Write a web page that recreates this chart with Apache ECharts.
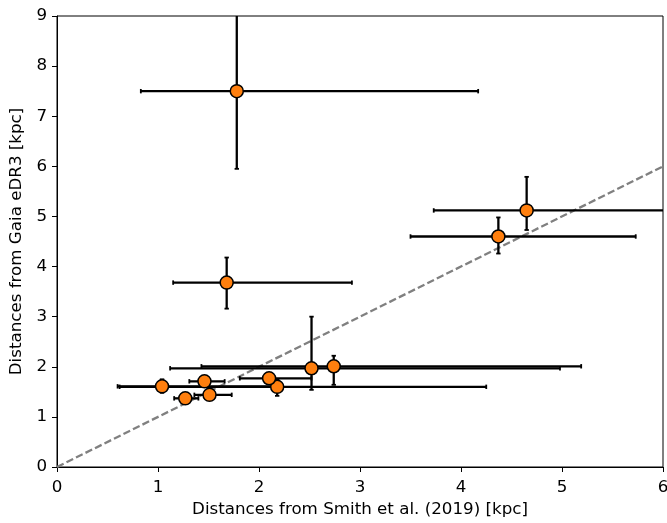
<!DOCTYPE html>
<html>
<head>
<meta charset="utf-8">
<script src="https://cdn.jsdelivr.net/npm/echarts@6/dist/echarts.min.js"></script>
<style>html,body{margin:0;padding:0;background:#fff;}#chart{width:667px;height:523px;}</style>
</head>
<body>
<div id="chart"></div>
<script>
// Values
var xVals  = [1.78, 1.68, 4.65, 4.37, 1.04, 2.18, 1.46, 1.27, 1.51, 2.10, 2.52, 2.74];
var yVals  = [7.50, 3.68, 5.12, 4.60, 1.61, 1.60, 1.71, 1.37, 1.44, 1.77, 1.97, 2.01];
var xLow   = [0.83, 1.15, 3.73, 3.50, 0.60, 0.62, 1.31, 1.16, 1.36, 1.81, 1.12, 1.43];
var xHigh  = [4.17, 2.92, 6.60, 5.73, 2.20, 4.25, 1.66, 1.40, 1.73, 2.52, 4.98, 5.19];
var yLow   = [5.95, 3.16, 4.73, 4.26, 1.48, 1.42, 1.65, 1.32, 1.38, 1.72, 1.54, 1.64];
var yHigh  = [9.30, 4.18, 5.79, 4.98, 1.75, 1.75, 1.77, 1.42, 1.50, 1.82, 3.00, 2.22];
var xTicks = [0, 1, 2, 3, 4, 5, 6];
var yTicks = [0, 1, 2, 3, 4, 5, 6, 7, 8, 9];
var oneToOne = [[0, 0], [6, 6]];
var xTitle = 'Distances from Smith et al. (2019) [kpc]';
var yTitle = 'Distances from Gaia eDR3 [kpc]';

var points = xVals.map(function (x, i) { return [x, yVals[i]]; });
var errData = xVals.map(function (x, i) {
  return [x, yVals[i], xLow[i], xHigh[i], yLow[i], yHigh[i]];
});

var FONT = 'DejaVu Sans';
var FS = 16.7;
var chart = echarts.init(document.getElementById('chart'), null, {renderer: 'canvas'});

function renderErr(params, api) {
  var x = api.value(0), y = api.value(1);
  var xl = api.value(2), xh = api.value(3), yl = api.value(4), yh = api.value(5);
  var pL = api.coord([xl, y]), pR = api.coord([xh, y]);
  var pB = api.coord([x, yl]), pT = api.coord([x, yh]);
  var cap = 2.2;
  var st = {stroke: '#000', lineWidth: 2.3};
  var capSt = {stroke: '#000', lineWidth: 1.8};
  return {
    type: 'group',
    children: [
      {type: 'line', shape: {x1: pL[0], y1: pL[1], x2: pR[0], y2: pR[1]}, style: st},
      {type: 'line', shape: {x1: pB[0], y1: pB[1], x2: pT[0], y2: pT[1]}, style: st},
      {type: 'line', shape: {x1: pL[0], y1: pL[1] - cap, x2: pL[0], y2: pL[1] + cap}, style: capSt},
      {type: 'line', shape: {x1: pR[0], y1: pR[1] - cap, x2: pR[0], y2: pR[1] + cap}, style: capSt},
      {type: 'line', shape: {x1: pB[0] - cap, y1: pB[1], x2: pB[0] + cap, y2: pB[1]}, style: capSt},
      {type: 'line', shape: {x1: pT[0] - cap, y1: pT[1], x2: pT[0] + cap, y2: pT[1]}, style: capSt}
    ]
  };
}

var option = {
  animation: false,
  backgroundColor: '#fff',
  grid: {left: 57, right: 4, top: 16, bottom: 56, show: true, borderColor: '#000', borderWidth: 1,
         backgroundColor: 'transparent', containLabel: false, outerBoundsMode: 'none'},
  xAxis: {
    type: 'value', min: xTicks[0], max: xTicks[xTicks.length - 1], interval: 1,
    name: xTitle, nameLocation: 'middle', nameGap: 34.5,
    nameTextStyle: {fontFamily: FONT, fontSize: FS, color: '#000'},
    axisLine: {show: true, onZero: false, lineStyle: {color: '#000', width: 1}},
    axisTick: {show: true, length: 5, lineStyle: {color: '#000', width: 1}},
    axisLabel: {fontFamily: FONT, fontSize: FS, color: '#000', margin: 12.5, hideOverlap: false},
    splitLine: {show: false}
  },
  yAxis: {
    type: 'value', min: yTicks[0], max: yTicks[yTicks.length - 1], interval: 1,
    name: yTitle, nameLocation: 'middle', nameGap: 30.5,
    nameTextStyle: {fontFamily: FONT, fontSize: FS, color: '#000'},
    axisLine: {show: true, onZero: false, lineStyle: {color: '#000', width: 1}},
    axisTick: {show: true, length: 5, lineStyle: {color: '#000', width: 1}},
    axisLabel: {fontFamily: FONT, fontSize: FS, color: '#000', margin: 10, hideOverlap: false},
    splitLine: {show: false}
  },
  series: [
    {
      type: 'line', data: oneToOne, symbol: 'none', z: 1,
      lineStyle: {color: '#808080', width: 2.3, type: [7.4, 3.2]}
    },
    {
      type: 'custom', data: errData, renderItem: renderErr, clip: true, z: 2,
      encode: {x: [0, 2, 3], y: [1, 4, 5]}
    },
    {
      type: 'scatter', data: points, symbol: 'circle', symbolSize: 13, z: 3,
      itemStyle: {color: '#ff7f0e', borderColor: '#000', borderWidth: 1.5, opacity: 1}
    }
  ]
};
chart.setOption(option);
</script>
</body>
</html>
